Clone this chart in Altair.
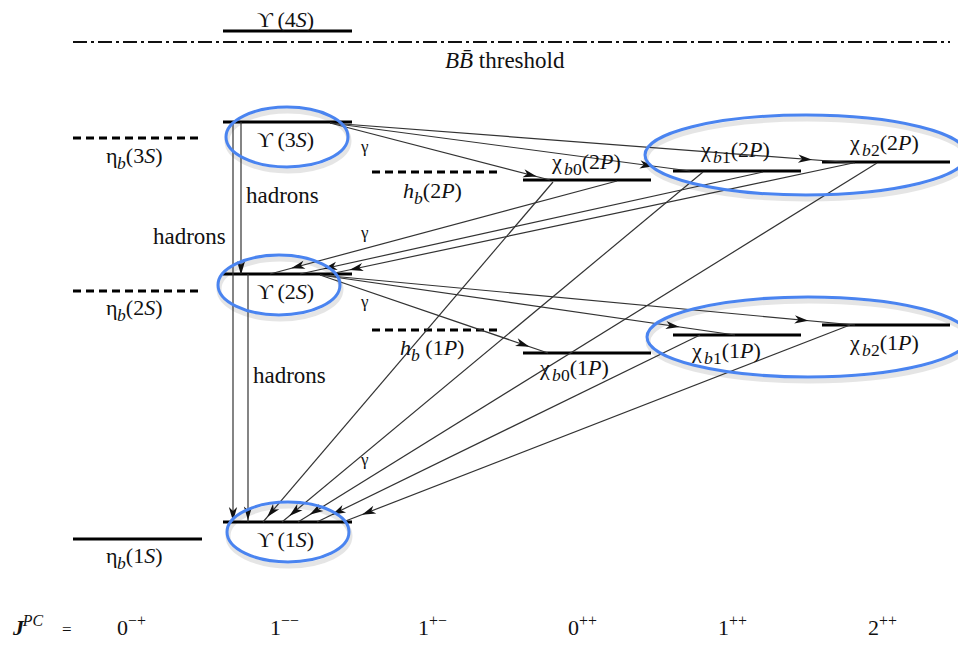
import math
import altair as alt
import pandas as pd

# ---------------- data (image pixel coordinates of the level scheme) ----------------
level_names = ["Y4S", "Y3S", "Y2S", "Y1S", "eta3S", "eta2S", "eta1S", "hb2P", "hb1P",
               "chib0_2P", "chib1_2P", "chib2_2P", "chib0_1P", "chib1_1P", "chib2_1P"]
level_x1 = [223, 223, 223, 223, 73, 73, 73, 372, 372, 523, 673, 822, 523, 673, 822]
level_x2 = [352, 352, 352, 352, 202, 202, 202, 501, 501, 651, 801, 950, 651, 801, 950]
level_y = [31, 122, 274, 522, 138, 291, 539, 172, 330, 180, 171, 162, 353, 335, 325]
level_dashed = [False, False, False, False, True, True, False, True, True,
                False, False, False, False, False, False]

threshold_x1 = [73]
threshold_x2 = [950]
threshold_y = [42]

# transitions: start, end, arrowhead position (fraction along the line)
trans_x1 = [330, 330, 330, 617, 763, 853, 320, 320, 320, 553, 703, 877, 700, 850, 241, 233, 248]
trans_y1 = [123, 123, 123, 181, 172, 163, 275, 275, 275, 182, 172, 163, 335, 325, 122, 122, 274]
trans_x2 = [550, 690, 855, 270, 300, 330, 548, 735, 855, 263, 282, 298, 317, 343, 241, 233, 248]
trans_y2 = [180, 171, 163, 274, 274, 274, 353, 335, 325, 522, 522, 522, 522, 522, 274, 522, 522]
trans_t = [0.91, 0.88, 0.905, 0.92, 0.935, 0.95, 0.89, 0.85, 0.90, 0.97, 0.97, 0.97, 0.945, 0.95,
           0.96, 0.98, 0.965]

# highlight ellipses
ellS_x = [287, 279, 288]
ellS_y = [137, 285, 532]
ellP_x = [806, 808]
ellP_y = [155, 337]

NB = "\u00a0"
# text labels: (left x, baseline y, font size, [(text, kind), ...]); kind "sp" = blank gap
labels = [
    (257, 27, 22, [("ϒ", "r"), ("", "sp"), ("(4", "r"), ("S", "i"), (")", "r")]),
    (257, 147, 22, [("ϒ", "r"), ("", "sp"), ("(3", "r"), ("S", "i"), (")", "r")]),
    (257, 299, 22, [("ϒ", "r"), ("", "sp"), ("(2", "r"), ("S", "i"), (")", "r")]),
    (257, 547, 22, [("ϒ", "r"), ("", "sp"), ("(1", "r"), ("S", "i"), (")", "r")]),
    (106, 163, 22, [("η", "r"), ("b", "sub_i"), ("(3", "r"), ("S", "i"), (")", "r")]),
    (106, 315, 22, [("η", "r"), ("b", "sub_i"), ("(2", "r"), ("S", "i"), (")", "r")]),
    (106, 563, 22, [("η", "r"), ("b", "sub_i"), ("(1", "r"), ("S", "i"), (")", "r")]),
    (403, 198, 22, [("h", "i"), ("b", "sub_i"), ("(2", "r"), ("P", "i"), (")", "r")]),
    (400, 355, 22, [("h", "i"), ("b", "sub_i"), ("", "sp"), ("(1", "r"), ("P", "i"), (")", "r")]),
    (552, 169, 22, [("χ", "r"), ("b", "sub_i"), ("0", "sub_r"), ("(2", "r"), ("P", "i"), (")", "r")]),
    (701, 157, 22, [("χ", "r"), ("b", "sub_i"), ("1", "sub_r"), ("(2", "r"), ("P", "i"), (")", "r")]),
    (850, 150, 22, [("χ", "r"), ("b", "sub_i"), ("2", "sub_r"), ("(2", "r"), ("P", "i"), (")", "r")]),
    (540, 375, 22, [("χ", "r"), ("b", "sub_i"), ("0", "sub_r"), ("(1", "r"), ("P", "i"), (")", "r")]),
    (692, 358, 22, [("χ", "r"), ("b", "sub_i"), ("1", "sub_r"), ("(1", "r"), ("P", "i"), (")", "r")]),
    (850, 350, 22, [("χ", "r"), ("b", "sub_i"), ("2", "sub_r"), ("(1", "r"), ("P", "i"), (")", "r")]),
    (445, 68, 23, [("B", "i"), ("B\u0304", "i"), ("", "sp"), ("threshold", "r")]),
    (246, 203, 23, [("hadrons", "r")]),
    (153, 244, 23, [("hadrons", "r")]),
    (253, 383, 23, [("hadrons", "r")]),
    (361, 152, 17, [("γ", "r")]),
    (361, 238, 17, [("γ", "r")]),
    (361, 307, 17, [("γ", "r")]),
    (361, 465, 17, [("γ", "r")]),
    (13, 635, 22, [("J", "bi"), ("PC", "sup_i")]),
    (62, 635, 17, [("=", "r")]),
    (117, 635, 22, [("0", "r"), ("−+", "sup_r")]),
    (270, 635, 22, [("1", "r"), ("−−", "sup_r")]),
    (418, 635, 22, [("1", "r"), ("+−", "sup_r")]),
    (568, 635, 22, [("0", "r"), ("++", "sup_r")]),
    (718, 635, 22, [("1", "r"), ("++", "sup_r")]),
    (868, 635, 22, [("2", "r"), ("++", "sup_r")]),
]

# ---------------- helpers ----------------
W_ROMAN = {"(": 0.333, ")": 0.333, " ": 0.25, NB: 0.25, "ϒ": 0.68, "η": 0.5, "χ": 0.55,
           "γ": 0.45, "=": 0.564, "−": 0.564, "+": 0.564, "a": 0.444, "d": 0.5, "h": 0.5,
           "n": 0.5, "o": 0.5, "r": 0.333, "s": 0.389, "t": 0.278, "e": 0.444, "l": 0.278}
W_ITALIC = {"S": 0.5, "P": 0.611, "b": 0.5, "h": 0.5, "B": 0.611, "J": 0.444, "C": 0.667,
            "\u0304": 0.0}
KINDS = {  # scale, baseline shift (em), style
    "r": (1.0, 0.0, "r"), "i": (1.0, 0.0, "i"), "bi": (1.0, 0.0, "bi"),
    "sub_i": (0.8, 0.26, "i"), "sub_r": (0.8, 0.26, "r"),
    "sup_i": (0.72, -0.42, "i"), "sup_r": (0.72, -0.42, "r"),
}


def char_w(ch, style):
    table = W_ROMAN if style == "r" else W_ITALIC
    return table.get(ch, W_ROMAN.get(ch, 0.5))


rows = []
for x0, y0, fs, segs in labels:
    x = x0
    for txt, kind in segs:
        if kind == "sp":
            x += 0.25 * fs
            continue
        sc, shift, style = KINDS[kind]
        size = fs * sc
        rows.append(dict(x=x, y=y0 + shift * fs, text=txt, size=size, style=style))
        x += sum(char_w(c, style) for c in txt) * size
text_df = pd.DataFrame(rows)

levels = pd.DataFrame(dict(name=level_names, x1=level_x1, x2=level_x2, y=level_y,
                           dashed=level_dashed))
thr = pd.DataFrame(dict(x1=threshold_x1, x2=threshold_x2, y=threshold_y))
trans = pd.DataFrame(dict(x1=trans_x1, y1=trans_y1, x2=trans_x2, y2=trans_y2, t=trans_t))
trans["ax"] = trans.x1 + trans.t * (trans.x2 - trans.x1)
trans["ay"] = trans.y1 + trans.t * (trans.y2 - trans.y1)
trans["angle"] = [(math.degrees(math.atan2(dx, -dy)) + 360) % 360
                  for dx, dy in zip(trans.x2 - trans.x1, trans.y2 - trans.y1)]
ellS = pd.DataFrame(dict(x=ellS_x, y=ellS_y))
ellP = pd.DataFrame(dict(x=ellP_x, y=ellP_y))

X = dict(scale=alt.Scale(domain=[8, 958], nice=False, zero=False), axis=None)
Y = dict(scale=alt.Scale(domain=[8, 641], reverse=True, nice=False, zero=False), axis=None)
FONT = "Liberation Serif"
BLUE = "#4a84f0"

ELL_S = "M-1,0 A1,0.49 0 1,1 1,0 A1,0.49 0 1,1 -1,0 Z"
ELL_P = "M-1,0 A1,0.248 0 1,1 1,0 A1,0.248 0 1,1 -1,0 Z"
ARROW = "M0,-1 L0.6,1 L0,0.45 L-0.6,1 Z"


def ellipse_layer(df, path, size, color, width, dx=0, dy=0, opacity=1.0):
    return alt.Chart(df).transform_calculate(
        xs=f"datum.x + {dx}", ys=f"datum.y + {dy}"
    ).mark_point(shape=path, size=size, filled=False, color=color,
                 strokeWidth=width, opacity=opacity).encode(
        x=alt.X("xs:Q", **X), y=alt.Y("ys:Q", **Y))


shadows = [
    ellipse_layer(ellS, ELL_S, 122 ** 2, "#9a9a9a", 5, 1, 4, 0.25),
    ellipse_layer(ellP, ELL_P, 322 ** 2, "#9a9a9a", 5, 1, 4, 0.25),
]

solid_levels = alt.Chart(levels[~levels.dashed]).mark_rule(
    color="black", strokeWidth=3).encode(
    x=alt.X("x1:Q", **X), x2="x2:Q", y=alt.Y("y:Q", **Y))
dashed_levels = alt.Chart(levels[levels.dashed]).mark_rule(
    color="black", strokeWidth=3, strokeDash=[8, 5]).encode(
    x=alt.X("x1:Q", **X), x2="x2:Q", y=alt.Y("y:Q", **Y))
threshold = alt.Chart(thr).mark_rule(
    color="#111", strokeWidth=2, strokeDash=[14, 4, 3, 4]).encode(
    x=alt.X("x1:Q", **X), x2="x2:Q", y=alt.Y("y:Q", **Y))

lines = alt.Chart(trans).mark_rule(color="#333333", strokeWidth=1.2).encode(
    x=alt.X("x1:Q", **X), y=alt.Y("y1:Q", **Y), x2="x2:Q", y2="y2:Q")
heads = alt.Chart(trans).mark_point(shape=ARROW, size=190, filled=True,
                                    color="#111", opacity=1).encode(
    x=alt.X("ax:Q", **X), y=alt.Y("ay:Q", **Y), angle=alt.Angle("angle:Q", scale=None))

ellipses = [
    ellipse_layer(ellS, ELL_S, 122 ** 2, BLUE, 3),
    ellipse_layer(ellP, ELL_P, 322 ** 2, BLUE, 3),
]


def text_layer(style, fstyle, fweight):
    return alt.Chart(text_df[text_df["style"] == style]).mark_text(
        align="left", baseline="alphabetic", font=FONT, fontStyle=fstyle,
        fontWeight=fweight, color="#111").encode(
        x=alt.X("x:Q", **X), y=alt.Y("y:Q", **Y), text="text:N",
        size=alt.Size("size:Q", scale=None))


texts = [text_layer("r", "normal", "normal"), text_layer("i", "italic", "normal"),
         text_layer("bi", "italic", "bold")]

chart = alt.layer(
    *shadows, solid_levels, dashed_levels, threshold, lines, heads, *ellipses, *texts
).properties(
    width=950, height=633, padding=0, autosize=alt.AutoSizeParams(type="none")
).configure_view(stroke=None)

chart.save("out.html", embed_options={"renderer": "svg", "actions": False})
